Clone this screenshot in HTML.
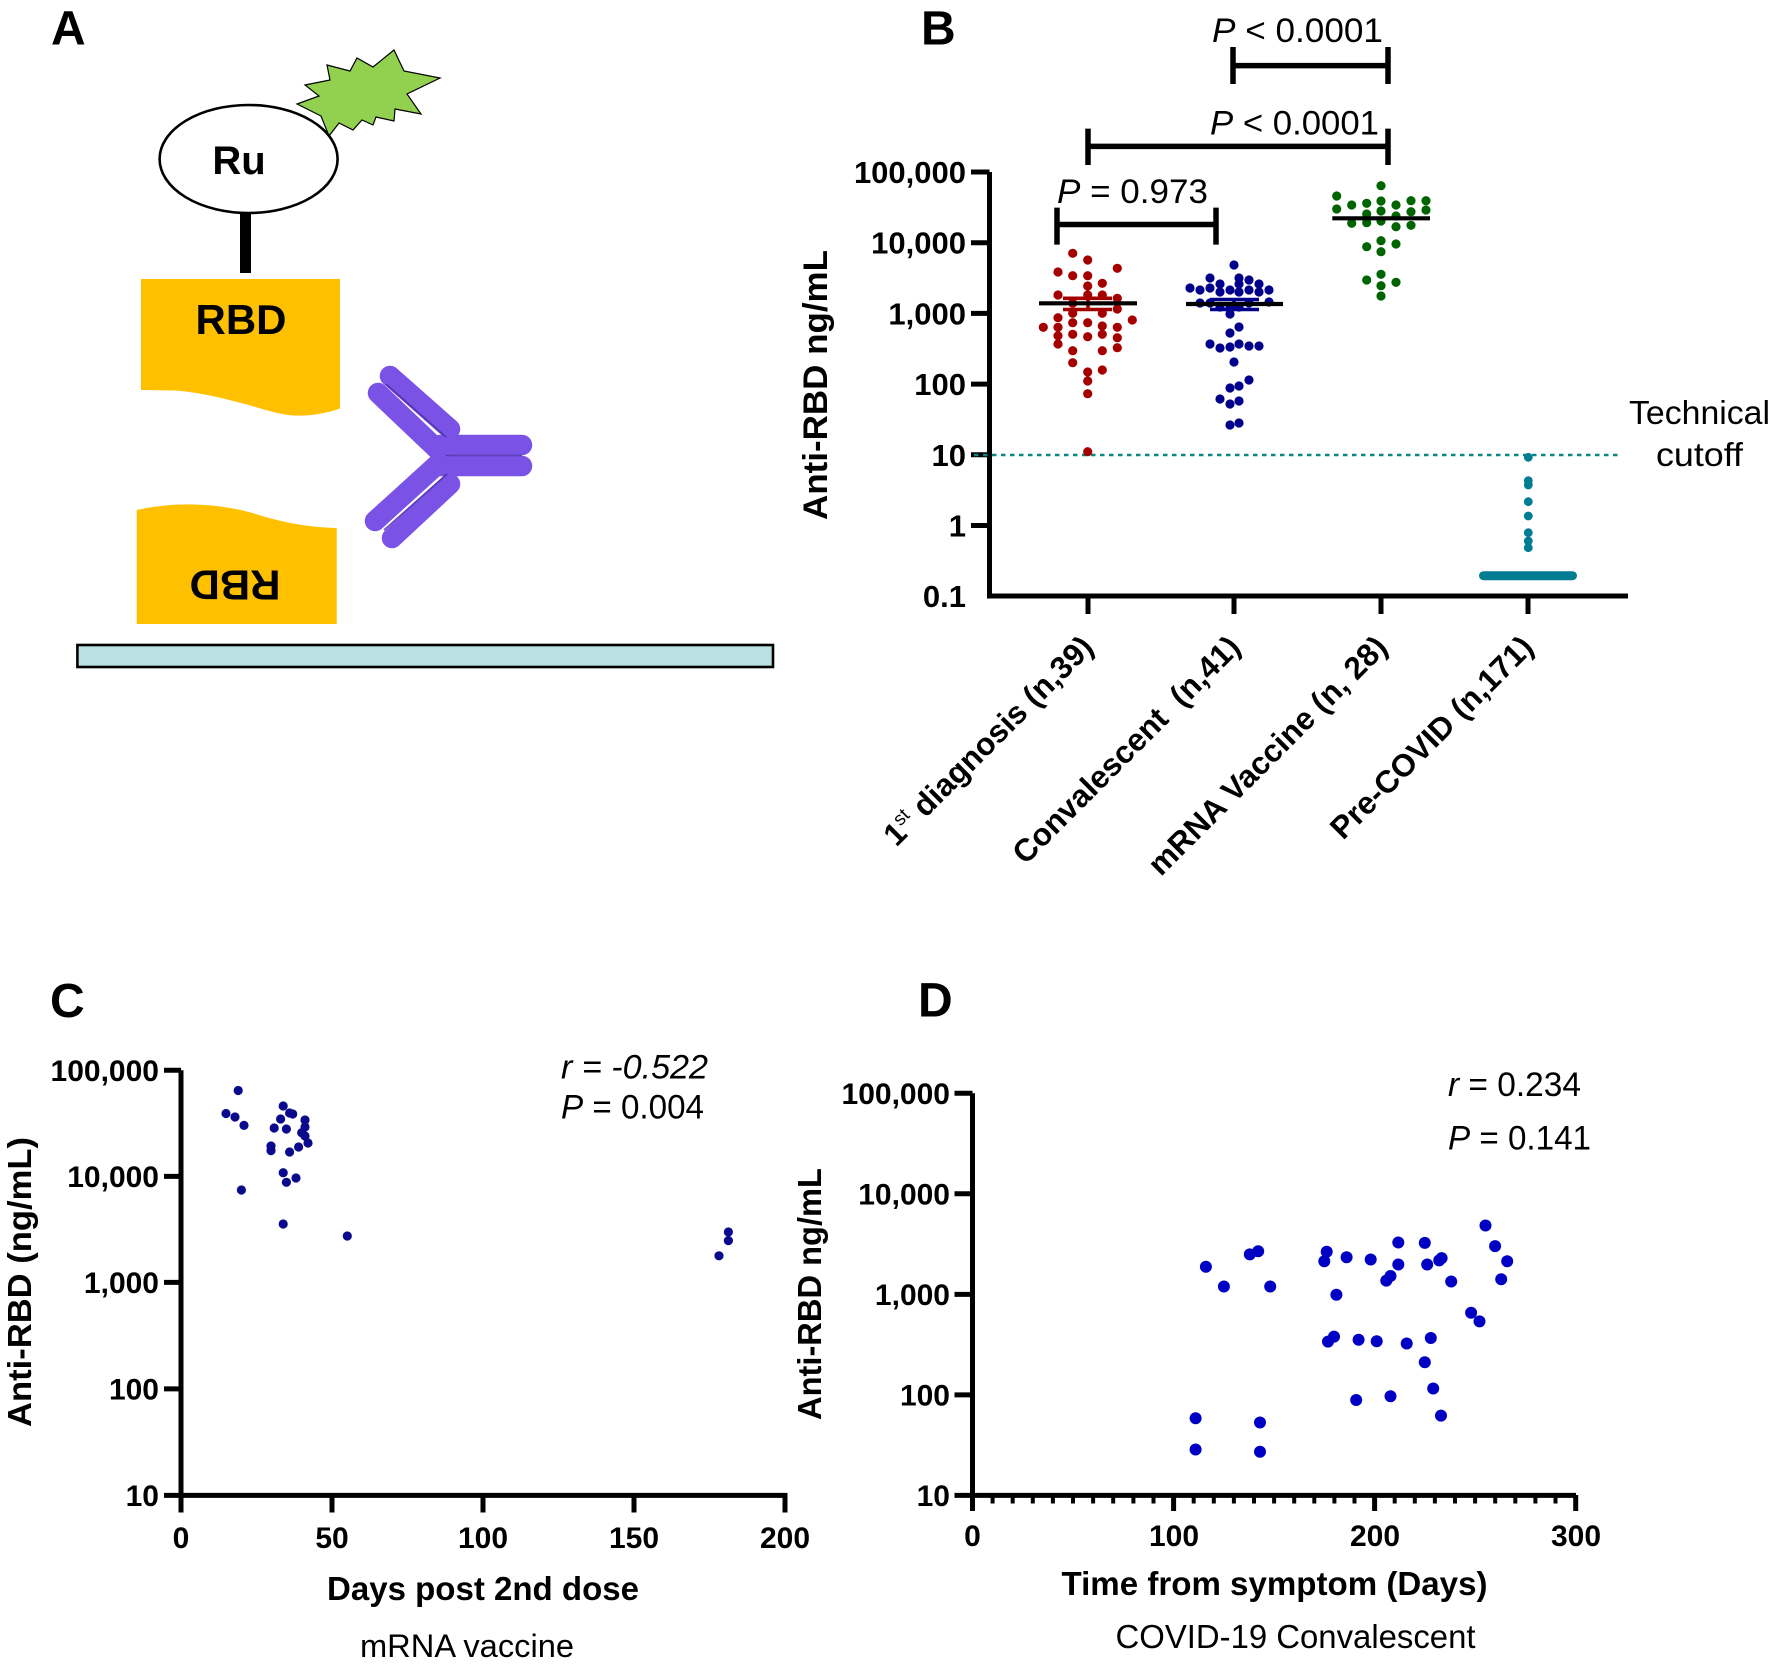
<!DOCTYPE html>
<html><head><meta charset="utf-8"><style>
html,body{margin:0;padding:0;background:#fff;}
svg{display:block;}
text{font-family:"Liberation Sans",Arial,sans-serif;}
</style></head><body>
<svg width="1773" height="1670" viewBox="0 0 1773 1670" xmlns="http://www.w3.org/2000/svg">
<rect width="1773" height="1670" fill="#fff"/>

<!-- ================= PANEL A ================= -->
<text x="51" y="44.6" font-size="48" font-weight="bold">A</text>
<polygon points="394,50 404,71 440,78 407,94 421,114 395,109 394,121 376,117 373,125 362,120 353,130 339,123 329,136 321,116 297,104 319,96 305,85 330,80 327,65 350,71 357,58 373,67" fill="#92d050" stroke="#000" stroke-width="1.2" stroke-linejoin="miter"/>
<ellipse cx="248.6" cy="159" rx="89" ry="54" fill="#fff" stroke="#000" stroke-width="2.6"/>
<text x="239" y="174" font-size="40" font-weight="bold" text-anchor="middle">Ru</text>
<rect x="240" y="213" width="11" height="60" fill="#000"/>
<path d="M141,279 H340 V408.5 C325,414 305,417 288,415 C268,412 255,406 237,402 C215,396 195,392 175,390.5 L141,390 Z" fill="#ffc000"/>
<text x="241" y="334" font-size="42" font-weight="bold" text-anchor="middle">RBD</text>
<path d="M136.7,510 C155,506 175,504 195,504.5 C215,505 235,508 254,513.5 C275,520 300,527 336.7,528 V624 H136.7 Z" fill="#ffc000"/>
<text x="235" y="600.5" font-size="42" font-weight="bold" text-anchor="middle" transform="rotate(180 235 585.5)">RBD</text>
<g stroke="#7a52e6" stroke-width="20.5" stroke-linecap="round" fill="none">
  <line x1="390" y1="376" x2="450" y2="429"/>
  <line x1="378" y1="393" x2="440" y2="452"/>
  <line x1="440" y1="445" x2="522" y2="445"/>
  <line x1="440" y1="466" x2="522" y2="466"/>
  <line x1="440" y1="462" x2="375" y2="521"/>
  <line x1="450" y1="484" x2="392" y2="538"/>
</g>
<g stroke="#4e2ea8" stroke-width="1.6" fill="none" opacity="0.85">
  <line x1="386" y1="384" x2="446" y2="437"/>
  <line x1="446" y1="455.5" x2="522" y2="455.5"/>
  <line x1="447" y1="474" x2="384" y2="530"/>
</g>
<rect x="77.4" y="645" width="695.6" height="22" fill="#b9e0e3" stroke="#000" stroke-width="2.6"/>

<!-- ================= PANEL B ================= -->
<text x="921" y="44.6" font-size="48" font-weight="bold">B</text>
<g stroke="#000" stroke-width="5.5" fill="none">
  <path d="M1233,47 V84 M1233,65.6 H1388 M1388,47 V84"/>
  <path d="M1088,128.6 V165 M1088,146.4 H1388 M1388,128.6 V165"/>
  <path d="M1057,207.6 V244.6 M1057,224.5 H1216 M1216,207.6 V244.6"/>
</g>
<text x="1212" y="42" font-size="34" textLength="171" lengthAdjust="spacingAndGlyphs"><tspan font-style="italic">P</tspan> &lt; 0.0001</text>
<text x="1210" y="134.5" font-size="34" textLength="169" lengthAdjust="spacingAndGlyphs"><tspan font-style="italic">P</tspan> &lt; 0.0001</text>
<text x="1057" y="203" font-size="34" textLength="151" lengthAdjust="spacingAndGlyphs"><tspan font-style="italic">P</tspan> = 0.973</text>

<path d="M989.5,172 V596 H1628" stroke="#000" stroke-width="5" fill="none"/>
<g stroke="#000" stroke-width="5">
  <line x1="971" y1="172" x2="989.5" y2="172"/>
  <line x1="971" y1="242.7" x2="989.5" y2="242.7"/>
  <line x1="971" y1="313.4" x2="989.5" y2="313.4"/>
  <line x1="971" y1="384.1" x2="989.5" y2="384.1"/>
  <line x1="971" y1="454.8" x2="989.5" y2="454.8"/>
  <line x1="971" y1="525.5" x2="989.5" y2="525.5"/>
  <line x1="1088" y1="596" x2="1088" y2="614"/>
  <line x1="1234" y1="596" x2="1234" y2="614"/>
  <line x1="1381" y1="596" x2="1381" y2="614"/>
  <line x1="1528" y1="596" x2="1528" y2="614"/>
</g>
<g font-size="31" font-weight="bold" text-anchor="end">
  <text x="966" y="183">100,000</text>
  <text x="966" y="253.7">10,000</text>
  <text x="966" y="324.4">1,000</text>
  <text x="966" y="395.1">100</text>
  <text x="966" y="465.8">10</text>
  <text x="966" y="536.5">1</text>
  <text x="966" y="607">0.1</text>
</g>
<text transform="translate(827 385) rotate(-90)" font-size="34" font-weight="bold" text-anchor="middle" textLength="270" lengthAdjust="spacingAndGlyphs">Anti-RBD ng/mL</text>

<line x1="974" y1="455" x2="1619" y2="455" stroke="#0a8585" stroke-width="2.4" stroke-dasharray="4.5 4.5"/>
<text x="1629" y="424" font-size="33" textLength="141" lengthAdjust="spacingAndGlyphs">Technical</text>
<text x="1656" y="466" font-size="33" textLength="87" lengthAdjust="spacingAndGlyphs">cutoff</text>

<g fill="#a50000">
<circle cx="1072.7" cy="253.3" r="4.6"/><circle cx="1087.7" cy="260" r="4.6"/><circle cx="1117.3" cy="268.3" r="4.6"/>
<circle cx="1058" cy="272" r="4.6"/><circle cx="1072.7" cy="275.7" r="4.6"/><circle cx="1087.7" cy="275.7" r="4.6"/>
<circle cx="1102.3" cy="283.3" r="4.6"/><circle cx="1087.7" cy="286" r="4.6"/>
<circle cx="1058" cy="295" r="4.6"/><circle cx="1087.7" cy="295" r="4.6"/><circle cx="1102.3" cy="295" r="4.6"/>
<circle cx="1117.3" cy="298.3" r="4.6"/><circle cx="1072.7" cy="303.3" r="4.6"/><circle cx="1117.3" cy="309" r="4.6"/>
<circle cx="1072.7" cy="313.3" r="4.6"/><circle cx="1102.3" cy="313.3" r="4.6"/><circle cx="1058" cy="317.7" r="4.6"/>
<circle cx="1132.3" cy="320" r="4.6"/><circle cx="1072.7" cy="322.7" r="4.6"/><circle cx="1087.7" cy="322.7" r="4.6"/>
<circle cx="1102.3" cy="326" r="4.6"/><circle cx="1043.3" cy="327.3" r="4.6"/><circle cx="1058" cy="327.3" r="4.6"/>
<circle cx="1117.3" cy="327.3" r="4.6"/><circle cx="1072.7" cy="334.3" r="4.6"/><circle cx="1102.3" cy="334.3" r="4.6"/>
<circle cx="1058" cy="335.7" r="4.6"/><circle cx="1087.7" cy="336.7" r="4.6"/><circle cx="1117.3" cy="337.7" r="4.6"/>
<circle cx="1058" cy="344" r="4.6"/><circle cx="1117.3" cy="347.7" r="4.6"/><circle cx="1072.7" cy="350.7" r="4.6"/>
<circle cx="1102.3" cy="350.7" r="4.6"/><circle cx="1072.7" cy="362.7" r="4.6"/><circle cx="1102.3" cy="370" r="4.6"/>
<circle cx="1087.7" cy="372" r="4.6"/><circle cx="1087.7" cy="381" r="4.6"/><circle cx="1087.7" cy="393.7" r="4.6"/>
<circle cx="1087.7" cy="451.7" r="4.6"/>
</g>
<g stroke="#a50000" stroke-width="3.6" fill="none">
  <path d="M1063,298.3 H1112 M1063,309.5 H1112 M1088,298.3 V309.5"/>
</g>
<line x1="1039" y1="303.3" x2="1137" y2="303.3" stroke="#000" stroke-width="4.2"/>

<g fill="#00008b">
<circle cx="1234" cy="265" r="4.6"/><circle cx="1210" cy="278" r="4.6"/><circle cx="1239" cy="278" r="4.6"/>
<circle cx="1249" cy="280" r="4.6"/><circle cx="1220" cy="284" r="4.6"/><circle cx="1239" cy="284" r="4.6"/>
<circle cx="1259" cy="284" r="4.6"/><circle cx="1190" cy="288" r="4.6"/><circle cx="1210" cy="288" r="4.6"/>
<circle cx="1200" cy="290" r="4.6"/><circle cx="1230" cy="290" r="4.6"/><circle cx="1249" cy="290" r="4.6"/>
<circle cx="1269" cy="290" r="4.6"/><circle cx="1220" cy="292" r="4.6"/><circle cx="1239" cy="292" r="4.6"/>
<circle cx="1259" cy="292" r="4.6"/><circle cx="1269" cy="302" r="4.6"/><circle cx="1200" cy="303" r="4.6"/>
<circle cx="1210" cy="303" r="4.6"/><circle cx="1249" cy="303" r="4.6"/><circle cx="1220" cy="307" r="4.6"/>
<circle cx="1230" cy="307" r="4.6"/><circle cx="1239" cy="307" r="4.6"/><circle cx="1230" cy="314" r="4.6"/>
<circle cx="1239" cy="327" r="4.6"/><circle cx="1230" cy="333" r="4.6"/><circle cx="1210" cy="344" r="4.6"/>
<circle cx="1239" cy="344" r="4.6"/><circle cx="1249" cy="346" r="4.6"/><circle cx="1259" cy="346" r="4.6"/>
<circle cx="1230" cy="347" r="4.6"/><circle cx="1220" cy="348" r="4.6"/><circle cx="1234" cy="362" r="4.6"/>
<circle cx="1249" cy="380" r="4.6"/><circle cx="1239" cy="386" r="4.6"/><circle cx="1230" cy="388" r="4.6"/>
<circle cx="1220" cy="399" r="4.6"/><circle cx="1239" cy="401" r="4.6"/><circle cx="1230" cy="404" r="4.6"/>
<circle cx="1239" cy="423" r="4.6"/><circle cx="1230" cy="425" r="4.6"/>
</g>
<g stroke="#00008b" stroke-width="3.6" fill="none">
  <path d="M1210,299.5 H1259 M1210,309.5 H1259 M1234,299.5 V309.5"/>
</g>
<line x1="1186" y1="304" x2="1283" y2="304" stroke="#000" stroke-width="4.2"/>

<g fill="#006400">
<circle cx="1381" cy="185.7" r="4.6"/><circle cx="1336.7" cy="196" r="4.6"/><circle cx="1336.7" cy="209" r="4.6"/>
<circle cx="1351.7" cy="205" r="4.6"/><circle cx="1366.7" cy="203.3" r="4.6"/><circle cx="1381" cy="201" r="4.6"/>
<circle cx="1396" cy="205" r="4.6"/><circle cx="1411" cy="200.7" r="4.6"/><circle cx="1426" cy="200.7" r="4.6"/>
<circle cx="1426" cy="210" r="4.6"/><circle cx="1411" cy="211.7" r="4.6"/><circle cx="1396" cy="216" r="4.6"/>
<circle cx="1381" cy="211" r="4.6"/><circle cx="1366.7" cy="214" r="4.6"/><circle cx="1351.7" cy="223.3" r="4.6"/>
<circle cx="1366.7" cy="222.7" r="4.6"/><circle cx="1381" cy="221" r="4.6"/><circle cx="1396" cy="226.7" r="4.6"/>
<circle cx="1411" cy="225.3" r="4.6"/><circle cx="1366.7" cy="246.7" r="4.6"/><circle cx="1381" cy="240.7" r="4.6"/>
<circle cx="1396" cy="244" r="4.6"/><circle cx="1381" cy="251.7" r="4.6"/><circle cx="1366.7" cy="280" r="4.6"/>
<circle cx="1381" cy="274.3" r="4.6"/><circle cx="1396" cy="282.3" r="4.6"/><circle cx="1381" cy="285.7" r="4.6"/>
<circle cx="1381" cy="296" r="4.6"/>
</g>
<line x1="1332.3" y1="218.3" x2="1430" y2="218.3" stroke="#000" stroke-width="4.2"/>

<g fill="#007d92">
<circle cx="1528.3" cy="457.3" r="4.4"/><circle cx="1528.3" cy="480.7" r="4.4"/><circle cx="1528.3" cy="485" r="4.4"/>
<circle cx="1528.3" cy="501.7" r="4.4"/><circle cx="1528.3" cy="516" r="4.4"/><circle cx="1528.3" cy="532.7" r="4.4"/>
<circle cx="1528.3" cy="541" r="4.4"/><circle cx="1528.3" cy="547.7" r="4.4"/>
</g>
<line x1="1483.5" y1="575.7" x2="1572.5" y2="575.7" stroke="#007d92" stroke-width="9" stroke-linecap="round"/>

<g font-size="31.5" font-weight="bold" text-anchor="end" style="white-space:pre">
  <text transform="translate(1095 649) rotate(-45)">1<tspan font-size="19" font-weight="normal" dy="-12">st</tspan><tspan dy="12"> diagnosis (n,39)</tspan></text>
  <text transform="translate(1242 649) rotate(-45)">Convalescent&#160; (n,41)</text>
  <text transform="translate(1389 649) rotate(-45)">mRNA Vaccine (n, 28)</text>
  <text transform="translate(1535 649) rotate(-45)">Pre-COVID (n,171)</text>
</g>

<!-- ================= PANEL C ================= -->
<text x="50" y="1017" font-size="48" font-weight="bold">C</text>
<path d="M181,1070.3 V1495.4 H787.5" stroke="#000" stroke-width="5" fill="none"/>
<g stroke="#000" stroke-width="5">
  <line x1="164" y1="1070.3" x2="181" y2="1070.3"/>
  <line x1="164" y1="1176.4" x2="181" y2="1176.4"/>
  <line x1="164" y1="1282.4" x2="181" y2="1282.4"/>
  <line x1="164" y1="1388.9" x2="181" y2="1388.9"/>
  <line x1="164" y1="1495.4" x2="181" y2="1495.4"/>
  <line x1="181" y1="1495" x2="181" y2="1512.5"/>
  <line x1="332" y1="1495" x2="332" y2="1512.5"/>
  <line x1="483" y1="1495" x2="483" y2="1512.5"/>
  <line x1="634" y1="1495" x2="634" y2="1512.5"/>
  <line x1="785" y1="1495" x2="785" y2="1512.5"/>
</g>
<g font-size="30" font-weight="bold" text-anchor="end">
  <text x="159" y="1080.8">100,000</text>
  <text x="159" y="1186.9">10,000</text>
  <text x="159" y="1292.9">1,000</text>
  <text x="159" y="1399.4">100</text>
  <text x="159" y="1505.9">10</text>
</g>
<g font-size="30" font-weight="bold" text-anchor="middle">
  <text x="181" y="1548">0</text>
  <text x="332" y="1548">50</text>
  <text x="483" y="1548">100</text>
  <text x="634" y="1548">150</text>
  <text x="785" y="1548">200</text>
</g>
<text x="483" y="1600" font-size="33" font-weight="bold" text-anchor="middle" textLength="312" lengthAdjust="spacingAndGlyphs">Days post 2nd dose</text>
<text x="467" y="1657" font-size="32" text-anchor="middle" textLength="214" lengthAdjust="spacingAndGlyphs">mRNA vaccine</text>
<text transform="translate(31 1282) rotate(-90)" font-size="33" font-weight="bold" text-anchor="middle" textLength="290" lengthAdjust="spacingAndGlyphs">Anti-RBD (ng/mL)</text>
<text x="561" y="1078.5" font-size="34" font-style="italic" textLength="147" lengthAdjust="spacingAndGlyphs">r = -0.522</text>
<text x="561" y="1118.5" font-size="34" textLength="143" lengthAdjust="spacingAndGlyphs"><tspan font-style="italic">P</tspan> = 0.004</text>
<g fill="#0a0a8c">
<circle cx="238.2" cy="1090.5" r="4.6"/><circle cx="226" cy="1113.5" r="4.6"/><circle cx="235" cy="1117" r="4.6"/>
<circle cx="244" cy="1125.4" r="4.6"/><circle cx="241.4" cy="1190" r="4.6"/><circle cx="283.2" cy="1106" r="4.6"/>
<circle cx="280.6" cy="1119" r="4.6"/><circle cx="274.2" cy="1128" r="4.6"/><circle cx="289.6" cy="1113" r="4.6"/>
<circle cx="292.7" cy="1114" r="4.6"/><circle cx="305" cy="1120" r="4.6"/><circle cx="305" cy="1127" r="4.6"/>
<circle cx="286.4" cy="1129" r="4.6"/><circle cx="301.7" cy="1132.7" r="4.6"/><circle cx="305" cy="1136" r="4.6"/>
<circle cx="308" cy="1143" r="4.6"/><circle cx="271" cy="1146" r="4.6"/><circle cx="271" cy="1150.6" r="4.6"/>
<circle cx="298.6" cy="1147" r="4.6"/><circle cx="289.6" cy="1152" r="4.6"/><circle cx="283.2" cy="1172.7" r="4.6"/>
<circle cx="296" cy="1178" r="4.6"/><circle cx="286.4" cy="1182.3" r="4.6"/><circle cx="283.2" cy="1224" r="4.6"/>
<circle cx="347.3" cy="1236" r="4.6"/><circle cx="728.4" cy="1232" r="4.6"/><circle cx="728.4" cy="1240.6" r="4.6"/>
<circle cx="719" cy="1255.8" r="4.6"/>
</g>

<!-- ================= PANEL D ================= -->
<text x="918" y="1016.6" font-size="48" font-weight="bold">D</text>
<path d="M972.5,1093.3 V1495.4 H1576" stroke="#000" stroke-width="5" fill="none"/>
<g stroke="#000" stroke-width="5">
  <line x1="954.5" y1="1093.3" x2="972.5" y2="1093.3"/>
  <line x1="954.5" y1="1193.8" x2="972.5" y2="1193.8"/>
  <line x1="954.5" y1="1294.4" x2="972.5" y2="1294.4"/>
  <line x1="954.5" y1="1394.9" x2="972.5" y2="1394.9"/>
  <line x1="954.5" y1="1495.4" x2="972.5" y2="1495.4"/>
  <line x1="972.5" y1="1495" x2="972.5" y2="1511"/>
  <line x1="1173.6" y1="1495" x2="1173.6" y2="1511"/>
  <line x1="1374.6" y1="1495" x2="1374.6" y2="1511"/>
  <line x1="1575.7" y1="1495" x2="1575.7" y2="1511"/>
</g>
<g stroke="#000" stroke-width="4">
  <line x1="992.6" y1="1495" x2="992.6" y2="1503.5"/><line x1="1012.7" y1="1495" x2="1012.7" y2="1503.5"/>
  <line x1="1032.8" y1="1495" x2="1032.8" y2="1503.5"/><line x1="1052.9" y1="1495" x2="1052.9" y2="1503.5"/>
  <line x1="1073" y1="1495" x2="1073" y2="1503.5"/><line x1="1093.1" y1="1495" x2="1093.1" y2="1503.5"/>
  <line x1="1113.2" y1="1495" x2="1113.2" y2="1503.5"/><line x1="1133.4" y1="1495" x2="1133.4" y2="1503.5"/>
  <line x1="1153.5" y1="1495" x2="1153.5" y2="1503.5"/>
  <line x1="1193.7" y1="1495" x2="1193.7" y2="1503.5"/><line x1="1213.8" y1="1495" x2="1213.8" y2="1503.5"/>
  <line x1="1233.9" y1="1495" x2="1233.9" y2="1503.5"/><line x1="1254" y1="1495" x2="1254" y2="1503.5"/>
  <line x1="1274.1" y1="1495" x2="1274.1" y2="1503.5"/><line x1="1294.2" y1="1495" x2="1294.2" y2="1503.5"/>
  <line x1="1314.3" y1="1495" x2="1314.3" y2="1503.5"/><line x1="1334.4" y1="1495" x2="1334.4" y2="1503.5"/>
  <line x1="1354.5" y1="1495" x2="1354.5" y2="1503.5"/>
  <line x1="1394.7" y1="1495" x2="1394.7" y2="1503.5"/><line x1="1414.8" y1="1495" x2="1414.8" y2="1503.5"/>
  <line x1="1434.9" y1="1495" x2="1434.9" y2="1503.5"/><line x1="1455" y1="1495" x2="1455" y2="1503.5"/>
  <line x1="1475.1" y1="1495" x2="1475.1" y2="1503.5"/><line x1="1495.2" y1="1495" x2="1495.2" y2="1503.5"/>
  <line x1="1515.3" y1="1495" x2="1515.3" y2="1503.5"/><line x1="1535.4" y1="1495" x2="1535.4" y2="1503.5"/>
  <line x1="1555.5" y1="1495" x2="1555.5" y2="1503.5"/>
</g>
<g font-size="30" font-weight="bold" text-anchor="end">
  <text x="950" y="1103.8">100,000</text>
  <text x="950" y="1204.3">10,000</text>
  <text x="950" y="1304.9">1,000</text>
  <text x="950" y="1405.4">100</text>
  <text x="950" y="1505.9">10</text>
</g>
<g font-size="30" font-weight="bold" text-anchor="middle">
  <text x="972.5" y="1546">0</text>
  <text x="1174" y="1546">100</text>
  <text x="1375" y="1546">200</text>
  <text x="1576" y="1546">300</text>
</g>
<text x="1274.5" y="1595" font-size="33" font-weight="bold" text-anchor="middle" textLength="426" lengthAdjust="spacingAndGlyphs">Time from symptom (Days)</text>
<text x="1295.5" y="1648" font-size="33" text-anchor="middle" textLength="360" lengthAdjust="spacingAndGlyphs">COVID-19 Convalescent</text>
<text transform="translate(821 1294) rotate(-90)" font-size="33" font-weight="bold" text-anchor="middle" textLength="252" lengthAdjust="spacingAndGlyphs">Anti-RBD ng/mL</text>
<text x="1448" y="1096" font-size="34" textLength="133" lengthAdjust="spacingAndGlyphs"><tspan font-style="italic">r</tspan> = 0.234</text>
<text x="1448" y="1149.7" font-size="34" textLength="143" lengthAdjust="spacingAndGlyphs"><tspan font-style="italic">P</tspan> = 0.141</text>
<g fill="#0000c4">
<circle cx="1485.5" cy="1225.5" r="6"/><circle cx="1495.1" cy="1246.1" r="6"/><circle cx="1507.2" cy="1261.3" r="6"/>
<circle cx="1501.2" cy="1279.2" r="6"/><circle cx="1398.3" cy="1242.5" r="6"/><circle cx="1424.8" cy="1242.9" r="6"/>
<circle cx="1326.7" cy="1251.7" r="6"/><circle cx="1258.2" cy="1251.2" r="6"/><circle cx="1249.8" cy="1254.4" r="6"/>
<circle cx="1205.9" cy="1266.8" r="6"/><circle cx="1324.3" cy="1261.3" r="6"/><circle cx="1346.6" cy="1257.2" r="6"/>
<circle cx="1370.7" cy="1259.5" r="6"/><circle cx="1398.3" cy="1264.5" r="6"/><circle cx="1427.2" cy="1264.5" r="6"/>
<circle cx="1439.2" cy="1260.4" r="6"/><circle cx="1441.6" cy="1258.1" r="6"/><circle cx="1390.5" cy="1276" r="6"/>
<circle cx="1386.3" cy="1280.6" r="6"/><circle cx="1451.2" cy="1281.5" r="6"/><circle cx="1223.9" cy="1286.5" r="6"/>
<circle cx="1270.2" cy="1286.5" r="6"/><circle cx="1336.4" cy="1294.8" r="6"/><circle cx="1471.1" cy="1312.7" r="6"/>
<circle cx="1479.5" cy="1321.4" r="6"/><circle cx="1334" cy="1336.6" r="6"/><circle cx="1328" cy="1341.6" r="6"/>
<circle cx="1358.6" cy="1339.8" r="6"/><circle cx="1376.7" cy="1341.2" r="6"/><circle cx="1406.7" cy="1343.5" r="6"/>
<circle cx="1430.8" cy="1338" r="6"/><circle cx="1424.8" cy="1362.3" r="6"/><circle cx="1433.2" cy="1388.5" r="6"/>
<circle cx="1356.2" cy="1400" r="6"/><circle cx="1390.5" cy="1396.3" r="6"/><circle cx="1441" cy="1415.6" r="6"/>
<circle cx="1195.6" cy="1418.3" r="6"/><circle cx="1260" cy="1422.5" r="6"/><circle cx="1195.6" cy="1449.5" r="6"/>
<circle cx="1260" cy="1451.8" r="6"/>
</g>
</svg>
</body></html>
